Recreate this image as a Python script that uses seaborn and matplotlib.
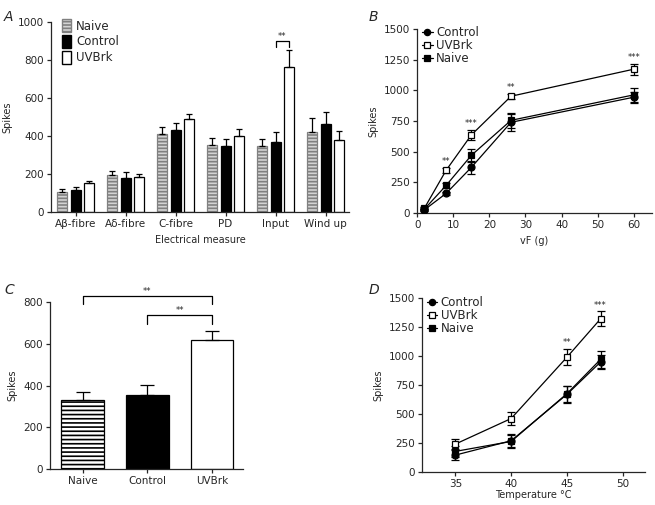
import numpy as np
import pandas as pd
import matplotlib
matplotlib.use("Agg")
import matplotlib.pyplot as plt
import seaborn as sns
from matplotlib.patches import Patch

# ---- DATA ----
# panel A
measures = ["Aβ-fibre", "Aδ-fibre", "C-fibre", "PD", "Input", "Wind up"]
groups_a = ["Naive", "Control", "UVBrk"]
naive_a = [105, 196, 409, 351, 347, 421]
naive_a_err = [18, 21, 37, 37, 37, 72]
control_a = [114, 181, 433, 349, 367, 465]
control_a_err = [16, 31, 37, 37, 56, 60]
uvbrk_a = [154, 184, 488, 400, 765, 379]
uvbrk_a_err = [9, 16, 31, 40, 91, 46]

# panel B
vf = [2, 8, 15, 26, 60]
control_b = [27, 160, 372, 739, 943]
control_b_err = [10, 15, 50, 70, 45]
uvbrk_b = [41, 348, 636, 951, 1171]
uvbrk_b_err = [10, 20, 40, 20, 45]
naive_b = [33, 225, 470, 755, 962]
naive_b_err = [10, 20, 55, 60, 55]
stars_b = ["**", "***", "**", "***"]
stars_b_x = [8, 15, 26, 60]

# panel C
groups_c = ["Naive", "Control", "UVBrk"]
spikes_c = [332, 353, 617]
spikes_c_err = [35, 48, 43]

# panel D
temp = [35, 40, 45, 48]
control_d = [143, 267, 668, 946]
control_d_err = [45, 55, 75, 60]
uvbrk_d = [238, 459, 989, 1319]
uvbrk_d_err = [40, 55, 70, 65]
naive_d = [175, 261, 674, 969]
naive_d_err = [45, 55, 70, 70]
stars_d = ["**", "***"]
stars_d_x = [45, 48]

# ---- STYLE ----
sns.set_style("ticks")
plt.rcParams['font.family'] = ['DejaVu Sans']
plt.rcParams['axes.linewidth'] = 0.9
plt.rcParams['xtick.major.size'] = 3
plt.rcParams['ytick.major.size'] = 3
plt.rcParams['xtick.major.width'] = 0.9
plt.rcParams['ytick.major.width'] = 0.9
plt.rcParams['hatch.linewidth'] = 1.2

TICK = 7.5
LAB = 7

fig = plt.figure(figsize=(6.55, 5.05), dpi=100)


def upper_err(ax, bars, errs, cap=2):
    for bar, e in zip(bars, errs):
        x = bar.get_x() + bar.get_width() / 2
        y = bar.get_height()
        ax.errorbar(x, y, yerr=[[0], [e]], fmt='none', ecolor='black',
                    elinewidth=0.9, capsize=cap, capthick=0.9, zorder=1)


def style_axes(ax):
    sns.despine(ax=ax)
    ax.tick_params(labelsize=TICK, pad=2)


# ---- PANEL A ----
ax_a = fig.add_axes([0.078, 0.580, 0.455, 0.376])
rows = []
for g, vals in zip(groups_a, [naive_a, control_a, uvbrk_a]):
    for m, v in zip(measures, vals):
        rows.append({"measure": m, "group": g, "spikes": v})
df_a = pd.DataFrame(rows)

sns.barplot(data=df_a, x="measure", y="spikes", hue="group",
            order=measures, hue_order=groups_a,
            palette={"Naive": "#d4d4d4", "Control": "black", "UVBrk": "white"},
            width=0.8, gap=0.25, errorbar=None, edgecolor="black",
            linewidth=0.9, legend=False, ax=ax_a)

for cont, errs in zip(ax_a.containers, [naive_a_err, control_a_err, uvbrk_a_err]):
    upper_err(ax_a, cont, errs)
for bar in ax_a.containers[0]:
    bar.set_edgecolor("#808080")
    bar.set_hatch("-----")

ax_a.set_ylim(0, 1000)
ax_a.set_xlim(-0.49, 5.47)
ax_a.set_yticks(range(0, 1001, 200))
ax_a.set_xlabel("Electrical measure", fontsize=LAB)
ax_a.set_ylabel("Spikes", fontsize=LAB)
style_axes(ax_a)

handles = [
    Patch(facecolor="#d4d4d4", edgecolor="#808080", hatch="-----"),
    Patch(facecolor="black", edgecolor="black"),
    Patch(facecolor="white", edgecolor="black"),
]
ax_a.legend(handles, groups_a, loc="upper left", bbox_to_anchor=(0.02, 1.04),
            frameon=False, fontsize=8.5, handlelength=0.8, handleheight=1.3,
            handletextpad=0.4, labelspacing=0.2, borderaxespad=0)

# significance bracket on Input
x1 = ax_a.containers[1][4].get_x() + ax_a.containers[1][4].get_width() / 2
x2 = ax_a.containers[2][4].get_x() + ax_a.containers[2][4].get_width() / 2
ax_a.plot([x1, x1, x2, x2], [872, 900, 900, 872], color="black", lw=0.9)
ax_a.text((x1 + x2) / 2, 903, "**", ha="center", va="bottom", fontsize=6)


# ---- line panels ----
def line_panel(ax, xs, series, stars, stars_x):
    specs = [("Control", "o", "black"), ("UVBrk", "s", "white"), ("Naive", "s", "black")]
    for (name, mk, fc), (vals, errs) in zip(specs, series):
        ax.errorbar(xs, vals, yerr=errs, fmt='none', ecolor='black',
                    elinewidth=0.9, capsize=3, capthick=0.9, zorder=2)
        sns.lineplot(x=xs, y=vals, marker=mk, markersize=5, color="black",
                     markerfacecolor=fc, markeredgecolor="black",
                     markeredgewidth=0.9, linewidth=0.9, label=name,
                     zorder=3, ax=ax)
    uv_vals, uv_errs = series[1]
    for s, sx in zip(stars, stars_x):
        i = list(xs).index(sx)
        ax.text(sx, uv_vals[i] + uv_errs[i] + 15, s, ha="center",
                va="bottom", fontsize=6)
    ax.set_ylim(0, 1500)
    ax.set_yticks(range(0, 1501, 250))
    ax.set_ylabel("Spikes", fontsize=LAB)
    ax.legend(loc="upper left", bbox_to_anchor=(0.0, 1.04), frameon=False,
              fontsize=8.5, handlelength=0.9, handletextpad=0.3,
              labelspacing=0.0, borderaxespad=0, markerscale=0.9)
    style_axes(ax)


ax_b = fig.add_axes([0.637, 0.578, 0.358, 0.365])
line_panel(ax_b, vf,
           [(control_b, control_b_err), (uvbrk_b, uvbrk_b_err), (naive_b, naive_b_err)],
           stars_b, stars_b_x)
ax_b.set_xlim(0, 65)
ax_b.set_xticks(range(0, 61, 10))
ax_b.set_xlabel("vF (g)", fontsize=LAB)

ax_d = fig.add_axes([0.644, 0.066, 0.341, 0.344])
line_panel(ax_d, temp,
           [(control_d, control_d_err), (uvbrk_d, uvbrk_d_err), (naive_d, naive_d_err)],
           stars_d, stars_d_x)
ax_d.set_xlim(32, 52)
ax_d.set_xticks([35, 40, 45, 50])
ax_d.set_xlabel("Temperature °C", fontsize=LAB, labelpad=1)

# ---- PANEL C ----
ax_c = fig.add_axes([0.076, 0.071, 0.295, 0.331])
df_c = pd.DataFrame({"group": groups_c, "spikes": spikes_c})
sns.barplot(data=df_c, x="group", y="spikes", hue="group", order=groups_c,
            palette={"Naive": "white", "Control": "black", "UVBrk": "white"},
            width=0.66, errorbar=None, edgecolor="black", linewidth=0.9,
            legend=False, ax=ax_c)
bars_c = [p for p in ax_c.patches]
bars_c.sort(key=lambda p: p.get_x())
upper_err(ax_c, bars_c, spikes_c_err, cap=5)
bars_c[0].set_hatch("----")

ax_c.set_ylim(0, 800)
ax_c.set_xlim(-0.51, 2.48)
ax_c.set_yticks(range(0, 801, 200))
ax_c.set_xlabel("")
ax_c.set_ylabel("Spikes", fontsize=LAB)
style_axes(ax_c)

xc = [p.get_x() + p.get_width() / 2 for p in bars_c]
ax_c.plot([xc[0], xc[0], xc[2], xc[2]], [788, 827, 827, 788], color="black",
          lw=0.9, clip_on=False)
ax_c.text((xc[0] + xc[2]) / 2, 830, "**", ha="center", va="bottom",
          fontsize=6, clip_on=False)
ax_c.plot([xc[1], xc[1], xc[2], xc[2]], [696, 736, 736, 696], color="black",
          lw=0.9, clip_on=False)
ax_c.text((xc[1] + xc[2]) / 2, 739, "**", ha="center", va="bottom", fontsize=6)

# ---- panel letters ----
for lbl, (x, y) in zip("ABCD", [(0.006, 0.958), (0.563, 0.958),
                                 (0.006, 0.418), (0.563, 0.418)]):
    fig.text(x, y, lbl, fontsize=10, style="italic")

plt.savefig("out.png", dpi=100)
